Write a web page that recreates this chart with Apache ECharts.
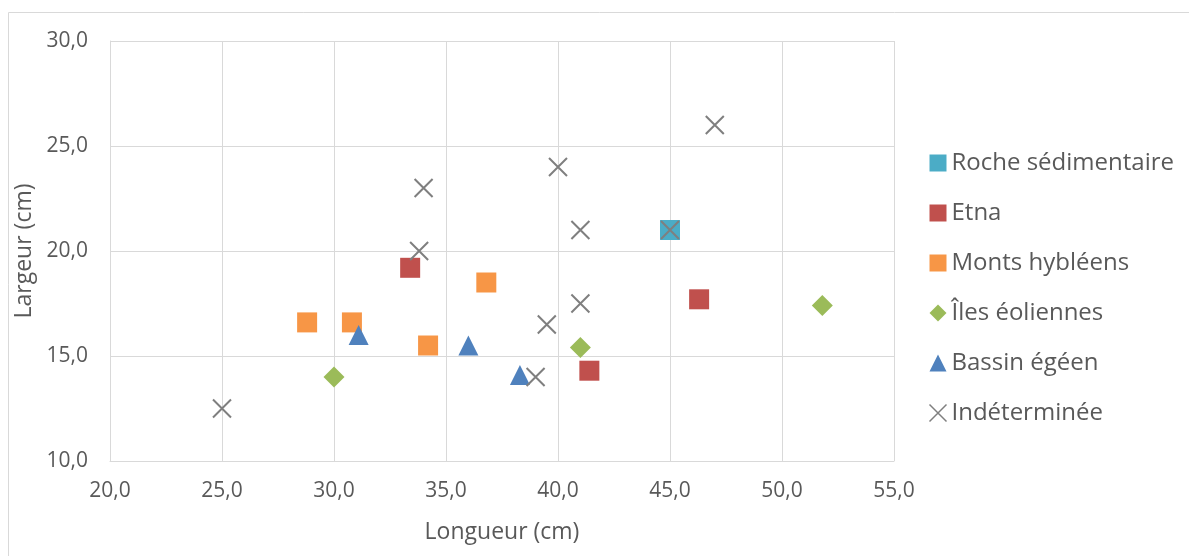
<!DOCTYPE html>
<html><head><meta charset="utf-8">
<script src="https://cdn.jsdelivr.net/npm/echarts@6/dist/echarts.min.js"></script>
<style>html,body{margin:0;padding:0;background:#fff}#c{width:1189px;height:556px}</style>
</head><body><div id="c"></div>
<script>
const seriesNames = ['Roche sédimentaire','Etna','Monts hybléens','Îles éoliennes','Bassin égéen','Indéterminée'];
const roche = [[45,21]];
const etna = [[33.4,19.2],[46.3,17.7],[41.4,14.3]];
const monts = [[28.8,16.6],[30.8,16.6],[34.2,15.5],[36.8,18.5]];
const iles = [[30,14],[41,15.4],[51.8,17.4]];
const bassin = [[31.1,16],[36,15.5],[38.3,14.1]];
const indet = [[25,12.5],[34,23],[33.8,20],[40,24],[41,21],[45,21],[41,17.5],[39.5,16.5],[39,14],[47,26]];
const xTicks = {min:20, max:55, interval:5};
const yTicks = {min:10, max:30, interval:5};

const X_PATH = 'path://M0,0L10,10M10,0L0,10';
const font = '"Open Sans", "Noto Sans", sans-serif';
const fmt = v => v.toFixed(1).replace('.', ',');
const chart = echarts.init(document.getElementById('c'), null, {renderer:'canvas'});
function sc(name, data, symbol, color, size, extra){
  return Object.assign({name, type:'scatter', data, symbol, symbolSize:size,
    itemStyle:{color, opacity:1}, emphasis:{disabled:true}, animation:false}, extra||{});
}
chart.setOption({
  animation:false,
  graphic:[{type:'rect', shape:{x:8.5,y:12.5,width:1200,height:600}, style:{fill:'none', stroke:'#d9d9d9', lineWidth:1}, silent:true}],
  grid:{left:110, top:41, right:295, bottom:95, containLabel:false},
  xAxis:{type:'value', min:xTicks.min, max:xTicks.max, interval:xTicks.interval,
    name:'Longueur (cm)', nameLocation:'middle', nameGap:60,
    nameTextStyle:{fontFamily:font, fontSize:23, color:'#595959'},
    axisLine:{show:true, lineStyle:{color:'#d9d9d9'}}, axisTick:{show:false},
    splitLine:{show:true, lineStyle:{color:'#d9d9d9', width:1}},
    axisLabel:{formatter:fmt, fontFamily:font, fontSize:21, color:'#595959', margin:20}},
  yAxis:{type:'value', min:yTicks.min, max:yTicks.max, interval:yTicks.interval,
    name:'Largeur (cm)', nameLocation:'middle', nameGap:67, nameRotate:90,
    nameTextStyle:{fontFamily:font, fontSize:23, color:'#595959'},
    axisLine:{show:true, lineStyle:{color:'#d9d9d9'}}, axisTick:{show:false},
    splitLine:{show:true, lineStyle:{color:'#d9d9d9', width:1}},
    axisLabel:{formatter:fmt, fontFamily:font, fontSize:21, color:'#595959', margin:22}},
  legend:{orient:'vertical', left:922, top:146, itemWidth:17, itemHeight:17, itemGap:26,
    textStyle:{fontFamily:font, fontSize:24, color:'#595959', lineHeight:24},
    data:[
      {name:seriesNames[0], icon:'rect'},
      {name:seriesNames[1], icon:'rect'},
      {name:seriesNames[2], icon:'rect'},
      {name:seriesNames[3], icon:'diamond'},
      {name:seriesNames[4], icon:'triangle'},
      {name:seriesNames[5], icon:X_PATH, itemStyle:{color:'none', borderColor:'#7f7f7f', borderWidth:1.5}}
    ]},
  series:[
    sc(seriesNames[0], roche, 'rect', '#4bacc6', 20),
    sc(seriesNames[1], etna, 'rect', '#c0504d', 20),
    sc(seriesNames[2], monts, 'rect', '#f79646', 20),
    sc(seriesNames[3], iles, 'diamond', '#9bbb59', 21),
    sc(seriesNames[4], bassin, 'triangle', '#4f81bd', 20),
    sc(seriesNames[5], indet, X_PATH, 'none', 18, {itemStyle:{color:'none', borderColor:'#7f7f7f', borderWidth:2, opacity:1}})
  ]
});
</script></body></html>
